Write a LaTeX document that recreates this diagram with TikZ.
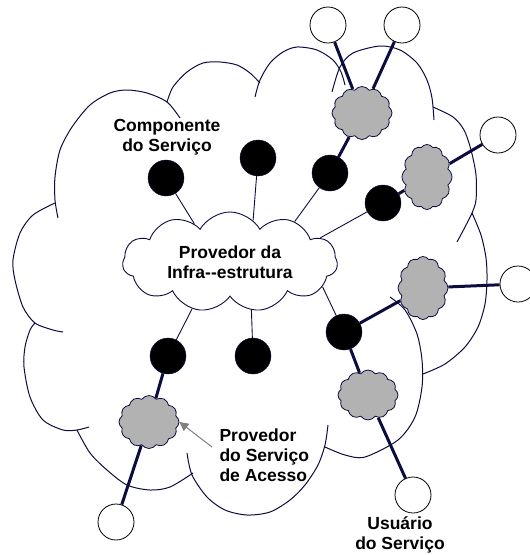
\documentclass[tikz,border=0pt]{standalone}
\usepackage{fontspec}
\setmainfont{Liberation Sans}
\usetikzlibrary{shapes.symbols,arrows.meta}
\definecolor{navy}{RGB}{12,12,64}
\definecolor{puffgray}{RGB}{178,178,178}
\begin{document}
\begin{tikzpicture}[x=1pt,y=-1pt,
  every node/.style={font=\fontsize{17.5}{20}\selectfont\bfseries},
  component/.style={circle,draw=navy,fill=black,minimum size=36pt,inner sep=0pt},
  user/.style={circle,draw=black,fill=white,line width=0.8pt,minimum size=36pt,inner sep=0pt},
  isp/.style={cloud,cloud puffs=12,cloud puff arc=110,cloud ignores aspect,
    draw=navy,fill=puffgray,line width=0.8pt,inner sep=0pt},
  infralink/.style={navy,line width=0.9pt},
  accesslink/.style={navy,line width=3pt},
  outline/.style={navy,line width=1pt},
  pointer/.style={gray,line width=1pt,-{Triangle[length=9pt,width=9pt]}}]
  \useasboundingbox (0,0) rectangle (530,555);

  \draw[outline] plot[smooth] coordinates {(58,218) (55,200) (55,177) (60,150) (72,127) (90,105)
    (110,93) (127,90) (147,93) (167,102) (180,118)};
  \draw[outline] plot[smooth] coordinates {(167,102) (173,87) (187,72) (203,63) (220,62) (237,65)
    (250,73) (260,83)};
  \draw[outline] plot[smooth] coordinates {(255,97) (260,80) (270,63) (283,52) (297,47) (317,50)
    (333,60) (341,72) (345,85)};
  \draw[outline] plot[smooth] coordinates {(332,92) (340,67) (353,53) (380,46) (400,50) (417,63)
    (427,80) (432,98) (434,120)};
  \draw[outline] plot[smooth] coordinates {(433,107) (453,117) (464,130) (471,150) (476,175)
    (476,200) (472,213) (465,227) (457,242)};
  \draw[outline] plot[smooth] coordinates {(472,213) (481,235) (486,258) (487,280) (485,304)
    (478,327) (465,347) (445,364) (423,374)};
  \draw[outline] plot[smooth] coordinates {(390,297) (405,310) (417,334) (422,360) (422,387)
    (415,417) (398,440) (365,457) (345,455) (325,447)};
  \draw[outline] plot[smooth] coordinates {(328,425) (325,445) (318,465) (305,485) (290,500)
    (270,512) (247,515) (225,510) (207,497) (192,475) (187,453)};
  \draw[outline] plot[smooth] coordinates {(193,473) (170,487) (150,490) (127,485) (107,470)
    (90,453) (77,430)};
  \draw[outline] plot[smooth] coordinates {(89,427) (77,430) (63,430) (43,420) (30,397) (24,367)
    (25,347) (30,330) (35,323)};
  \draw[outline] plot[smooth] coordinates {(63,332) (53,330) (35,323) (23,307) (15,280) (13,260)
    (20,233) (33,215) (55,203)};

  \node[cloud,cloud puffs=11,cloud puff arc=120,cloud ignores aspect,minimum width=215pt,
    minimum height=100pt,draw=navy,fill=white,line width=0.9pt,inner sep=0pt,align=center]
    (infra) at (230,262) {Provedor da\\Infra-{}-estrutura};

  \node[component] (comp1) at (166,178) {};
  \node[component] (comp2) at (258,158) {};
  \node[component] (comp3) at (330,173) {};
  \node[component] (comp4) at (383,203) {};
  \node[component] (comp5) at (168,356) {};
  \node[component] (comp6) at (253,356) {};
  \node[component] (comp7) at (344,332) {};

  \node[isp,minimum width=60pt,minimum height=53pt] (isp1) at (362,113) {};
  \node[isp,minimum width=50pt,minimum height=65pt] (isp2) at (427,177) {};
  \node[isp,minimum width=50pt,minimum height=63pt] (isp3) at (423,288) {};
  \node[isp,minimum width=60pt,minimum height=50pt] (isp4) at (368,395) {};
  \node[isp,minimum width=60pt,minimum height=53pt] (isp5) at (149,422) {};

  \node[user] (user1) at (328,25) {};
  \node[user] (user2) at (402,25) {};
  \node[user] (user3) at (498,135) {};
  \node[user] (user4) at (518,284) {};
  \node[user] (user5) at (116,522) {};
  \node[user] (user6) at (413,495) {};

  \draw[infralink] (comp1) -- (infra.133);
  \draw[infralink] (comp2) -- (infra.61);
  \draw[infralink] (comp3) -- (infra.32);
  \draw[infralink] (comp4) -- (infra.15);
  \draw[infralink] (infra.231) -- (comp5);
  \draw[infralink] (infra.294) -- (comp6);
  \draw[infralink] (infra.345) -- (comp7);

  \draw[accesslink] (user1) -- (isp1);
  \draw[accesslink] (user2) -- (isp1);
  \draw[accesslink] (isp1) -- (comp3);
  \draw[accesslink] (comp4) -- (isp2);
  \draw[accesslink] (isp2) -- (user3);
  \draw[accesslink] (comp7) -- (isp3);
  \draw[accesslink] (isp3) -- (user4);
  \draw[accesslink] (comp7) -- (isp4);
  \draw[accesslink] (isp4) -- (user6);
  \draw[accesslink] (comp5) -- (isp5);
  \draw[accesslink] (isp5) -- (user5);

  \node[align=center] (comptxt) at (167,137) {Componente\\do Serviço};
  \node[align=left,anchor=west] (accesstxt) at (216,455) {Provedor\\do Serviço\\de Acesso};
  \node[align=center] (usertxt) at (400,535) {Usuário\\do Serviço};
  \coordinate (pointerstart) at (212,447);
  \draw[pointer] (pointerstart) -- (isp5.east);
\end{tikzpicture}
\end{document}
